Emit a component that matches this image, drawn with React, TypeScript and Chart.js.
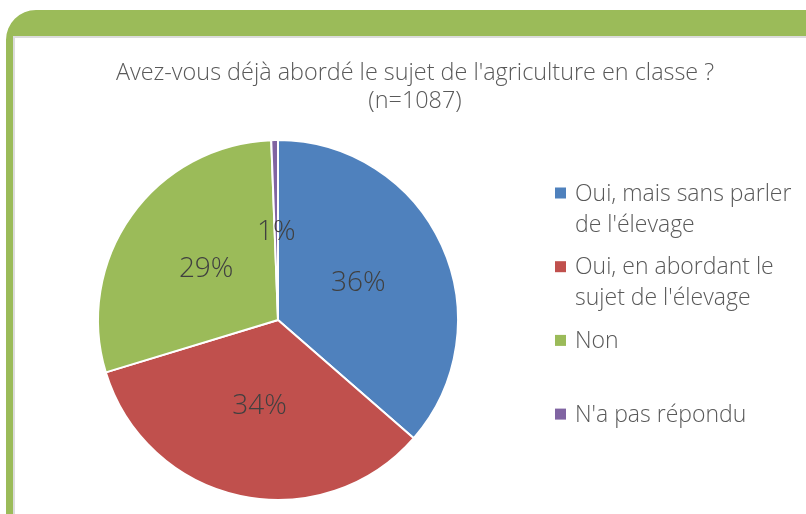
import React, { useEffect, useRef } from "react";
import { Chart, registerables } from "chart.js";

Chart.register(...registerables);

const categories = [
  "Oui, mais sans parler de l'élevage",
  "Oui, en abordant le sujet de l'élevage",
  "Non",
  "N'a pas répondu",
];
const values = [36.4, 33.9, 29.1, 0.6];
const colors = ["#4F81BD", "#C0504D", "#9BBB59", "#8064A2"];
const titleLines = ["Avez-vous déjà abordé le sujet de l'agriculture en classe ?", "(n=1087)"];

const FONT = "'Open Sans', sans-serif";

function wrap(ctx: CanvasRenderingContext2D, text: string, maxW: number): string[] {
  const words = text.split(" ");
  const lines: string[] = [];
  let cur = "";
  for (const w of words) {
    const t = cur ? cur + " " + w : w;
    if (ctx.measureText(t).width > maxW && cur) {
      lines.push(cur);
      cur = w;
    } else cur = t;
  }
  if (cur) lines.push(cur);
  return lines;
}

const framePlugin = {
  id: "frame",
  beforeDraw(chart: any) {
    const ctx = chart.ctx as CanvasRenderingContext2D;
    const W = chart.width, H = chart.height;
    ctx.save();
    ctx.fillStyle = "#ffffff";
    ctx.fillRect(0, 0, W, H);
    const R = 30;
    ctx.fillStyle = "#9BBB59";
    ctx.beginPath();
    ctx.moveTo(6, H + 5);
    ctx.lineTo(6, 10 + R);
    ctx.arcTo(6, 10, 6 + R, 10, R);
    ctx.lineTo(W + 5, 10);
    ctx.lineTo(W + 5, 36);
    ctx.lineTo(13, 36);
    ctx.lineTo(13, H + 5);
    ctx.closePath();
    ctx.fill();
    ctx.fillStyle = "#DCDCDC";
    ctx.fillRect(13, 36, W, 2);
    ctx.fillRect(13, 36, 2, H);
    ctx.restore();
  },
};

const labelsPlugin = {
  id: "customLabels",
  afterDatasetsDraw(chart: any) {
    const ctx = chart.ctx as CanvasRenderingContext2D;
    const meta = chart.getDatasetMeta(0);
    ctx.save();
    ctx.font = `300 28px ${FONT}`;
    ctx.fillStyle = "#404040";
    ctx.textAlign = "center";
    ctx.textBaseline = "middle";
    meta.data.forEach((arc: any, i: number) => {
      const p = arc.getProps(["startAngle", "endAngle", "outerRadius", "x", "y"], true);
      const mid = (p.startAngle + p.endAngle) / 2;
      const r = p.outerRadius * 0.49;
      ctx.fillText(Math.round(values[i]) + "%", p.x + Math.cos(mid) * r, p.y + Math.sin(mid) * r);
    });

    // title
    ctx.font = `300 23.4px ${FONT}`;
    ctx.fillStyle = "#595959";
    titleLines.forEach((t, i) => ctx.fillText(t, 415, 73 + i * 28));

    // legend
    ctx.textAlign = "left";
    ctx.font = `300 23px ${FONT}`;
    categories.forEach((c, i) => {
      const y0 = 193 + i * 73.7;
      ctx.fillStyle = colors[i];
      ctx.fillRect(555, y0 - 5.5, 11, 11);
      ctx.fillStyle = "#595959";
      wrap(ctx, c, 235).forEach((ln, j) => ctx.fillText(ln, 575, y0 + 1 + j * 31));
    });
    ctx.restore();
  },
};

export default function App() {
  const ref = useRef<HTMLCanvasElement>(null);
  useEffect(() => {
    document.body.style.margin = "0";
    const chart = new Chart(ref.current!, {
      type: "pie",
      data: {
        labels: categories,
        datasets: [
          {
            data: values,
            backgroundColor: colors,
            borderColor: "#ffffff",
            borderWidth: 2,
          },
        ],
      },
      options: {
        responsive: false,
        animation: false,
        layout: { padding: { left: 97, right: 347, top: 139, bottom: 13 } },
        plugins: {
          legend: { display: false },
          tooltip: { enabled: false },
          title: { display: false },
        },
      },
      plugins: [framePlugin, labelsPlugin],
    });
    return () => chart.destroy();
  }, []);
  return (
    <div style={{ width: 806, height: 514 }}>
      <canvas ref={ref} width={806} height={514} style={{ display: "block" }} />
    </div>
  );
}
